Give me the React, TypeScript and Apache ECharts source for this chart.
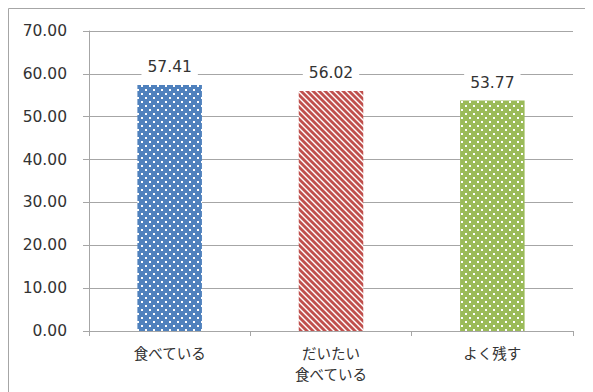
import React, { useEffect, useRef } from "react";
import * as echarts from "echarts";

const categories = ["食べている", "だいたい\n食べている", "よく残す"];
const values = [57.41, 56.02, 53.77];
const barColors = ["#4F81BD", "#C0504D", "#9BBB59"];
const patternKinds = ["dots", "stripes", "dots"];
const yMin = 0;
const yMax = 70;
const yInterval = 10;

function makePattern(kind: string, color: string) {
  const c = document.createElement("canvas");
  if (kind === "dots") {
    const s = 8;
    c.width = s;
    c.height = s;
    const ctx = c.getContext("2d")!;
    ctx.fillStyle = color;
    ctx.fillRect(0, 0, s, s);
    ctx.fillStyle = "#ffffff";
    ctx.fillRect(1, 1, 2, 2);
    ctx.fillRect(5, 5, 2, 2);
    return { image: c, repeat: "repeat", imageWidth: s, imageHeight: s };
  }
  const s = 6;
  c.width = s;
  c.height = s;
  const ctx = c.getContext("2d")!;
  ctx.fillStyle = "#ffffff";
  ctx.fillRect(0, 0, s, s);
  ctx.strokeStyle = color;
  ctx.lineWidth = 2.8;
  for (const k of [-s, 0, s]) {
    ctx.beginPath();
    ctx.moveTo(k - 1, -1);
    ctx.lineTo(k + s + 1, s + 1);
    ctx.stroke();
  }
  return { image: c, repeat: "repeat", imageWidth: s, imageHeight: s };
}

export default function App() {
  const ref = useRef<HTMLDivElement>(null);
  useEffect(() => {
    if (!ref.current) return;
    const chart = echarts.init(ref.current, null, { renderer: "svg" });
    const numFont = "DejaVu Sans";
    const cjkFont = "Noto Sans CJK JP";
    chart.setOption({
      animation: false,
      graphic: [
        {
          type: "rect",
          shape: { x: 0.5, y: 0.5, width: 700, height: 500 },
          style: { fill: "none", stroke: "#a6a6a6", lineWidth: 1 },
          silent: true,
        },
      ],
      grid: { left: 81, top: 23, right: 20, bottom: 61 },
      xAxis: {
        type: "category",
        data: categories,
        axisLine: { show: true, lineStyle: { color: "#a6a6a6", width: 1 } },
        axisTick: { show: true, length: 5, lineStyle: { color: "#a6a6a6" } },
        axisLabel: {
          color: "#333333",
          fontFamily: cjkFont,
          fontSize: 14.5,
          lineHeight: 21,
          margin: 11,
        },
      },
      yAxis: {
        type: "value",
        min: yMin,
        max: yMax,
        interval: yInterval,
        axisLine: { show: true, lineStyle: { color: "#a6a6a6", width: 1 } },
        axisTick: { show: true, length: 6, lineStyle: { color: "#a6a6a6" } },
        splitLine: { show: true, lineStyle: { color: "#a6a6a6", width: 1 } },
        axisLabel: {
          color: "#333333",
          fontFamily: numFont,
          fontSize: 15.5,
          margin: 22,
          formatter: (v: number) => v.toFixed(2),
        },
      },
      series: [
        {
          type: "bar",
          barWidth: "40%",
          data: values.map((v, i) => ({
            value: v,
            itemStyle: { color: makePattern(patternKinds[i], barColors[i]) },
          })),
          label: {
            show: true,
            position: "top",
            distance: 8,
            color: "#333333",
            fontFamily: numFont,
            fontSize: 15.5,
            backgroundColor: "#ffffff",
            padding: [2, 6],
            formatter: (p: any) => Number(p.value).toFixed(2),
          },
        },
      ],
    });
    return () => chart.dispose();
  }, []);
  return <div ref={ref} style={{ width: 585, height: 384 }} />;
}
